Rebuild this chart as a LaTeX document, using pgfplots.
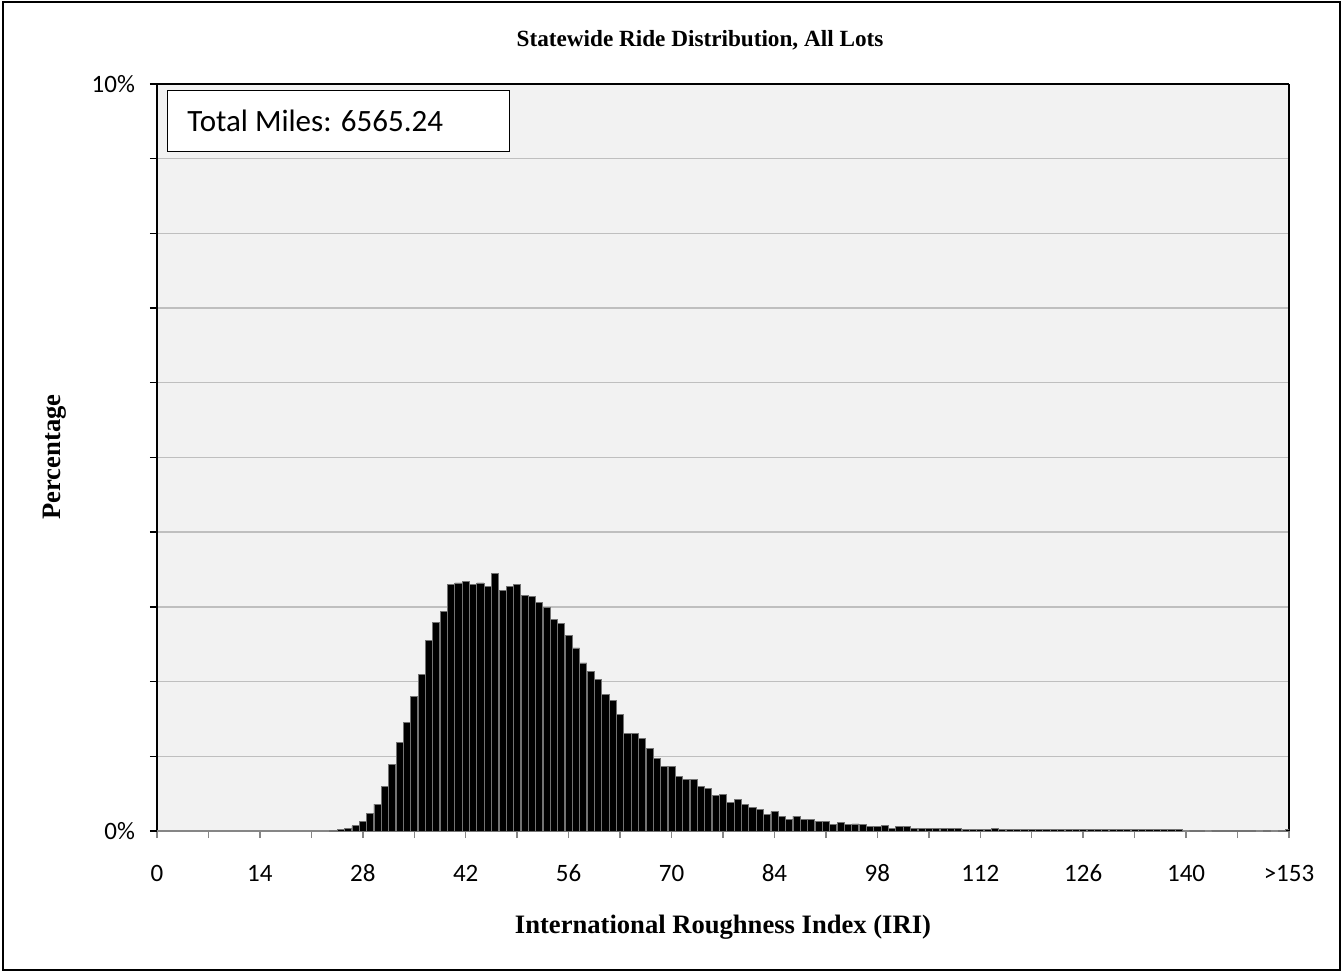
\documentclass[border=0pt]{standalone}
\usepackage{pgfplots}
\pgfplotsset{compat=1.18}
\usepackage{fontspec}
\setmainfont{Liberation Serif}
\newfontfamily\calibri{Carlito}
\definecolor{plotbg}{HTML}{F2F2F2}
\definecolor{gridgray}{HTML}{BFBFBF}
\definecolor{axgray}{HTML}{868686}

\pgfplotstableread{
k  pct
24 0.01
25 0.02
26 0.04
27 0.07
28 0.13
29 0.24
30 0.36
31 0.60
32 0.89
33 1.18
34 1.45
35 1.80
36 2.10
37 2.55
38 2.79
39 2.94
40 3.30
41 3.32
42 3.34
43 3.30
44 3.32
45 3.27
46 3.45
47 3.22
48 3.27
49 3.30
50 3.15
51 3.14
52 3.06
53 2.99
54 2.83
55 2.78
56 2.62
57 2.45
58 2.25
59 2.13
60 2.03
61 1.83
62 1.75
63 1.56
64 1.31
65 1.31
66 1.24
67 1.11
68 0.97
69 0.86
70 0.86
71 0.73
72 0.69
73 0.69
74 0.60
75 0.57
76 0.48
77 0.49
78 0.38
79 0.42
80 0.36
81 0.32
82 0.29
83 0.22
84 0.26
85 0.19
86 0.16
87 0.20
88 0.16
89 0.16
90 0.13
91 0.13
92 0.085
93 0.11
94 0.09
95 0.095
96 0.085
97 0.06
98 0.06
99 0.07
100 0.04
101 0.06
102 0.055
103 0.04
104 0.035
105 0.035
106 0.04
107 0.03
108 0.03
109 0.03
110 0.025
111 0.025
112 0.025
113 0.025
114 0.035
115 0.02
116 0.015
117 0.02
118 0.015
119 0.02
120 0.015
121 0.015
122 0.02
123 0.015
124 0.015
125 0.015
126 0.02
127 0.015
128 0.015
129 0.015
130 0.015
131 0.015
132 0.015
133 0.015
134 0.015
135 0.015
136 0.015
137 0.015
138 0.015
139 0.015
141 0.01
142 0.01
144 0.01
145 0.01
146 0.01
147 0.01
148 0.01
149 0.01
151 0.01
153 0.01
154 0.02
}\ridedata

\begin{document}
\begin{tikzpicture}
% page size: 1342x973 px at 0.5pt per px, axis origin at (157,831) px
\path[use as bounding box] (-78.5pt,-71pt) rectangle (592.5pt,415.5pt);
\draw[line width=0.7pt] (-77pt,-69.5pt) rectangle (591.5pt,414.5pt);
\begin{axis}[
  at={(0pt,0pt)}, anchor=origin,
  scale only axis,
  width=566pt, height=373.5pt,
  xmin=0, xmax=154,
  ymin=0, ymax=10,
  axis background/.style={fill=plotbg},
  separate axis lines,
  x axis line style={draw=none},
  y axis line style={black, line width=0.7pt},
  ytick={0,1,...,10},
  yticklabels={0\%,,,,,,,,,,10\%},
  xtick={0,7,...,154},
  xticklabels={0,,14,,28,,42,,56,,70,,84,,98,,112,,126,,140,,>153},
  xtick pos=lower, ytick pos=left,
  tick align=outside,
  major tick length=3.5pt,
  xtick style={axgray, line width=0.7pt},
  ytick style={black, line width=0.7pt},
  ymajorgrids,
  major grid style={gridgray, line width=0.7pt},
  /pgf/number format/assume math mode=true,
  ticklabel style={font=\calibri\fontsize{12.5}{14}\selectfont},
  xticklabel style={yshift=-9pt, text height=9pt, text depth=2pt},
  yticklabel style={xshift=-4pt},
  ylabel={Percentage},
  every axis y label/.style={at={(-51pt,187pt)}, rotate=90, anchor=center,
    font=\bfseries\fontsize{13.3}{15}\selectfont},
  xlabel={International Roughness Index (IRI)},
  every axis x label/.style={at={(283pt,-48pt)}, anchor=center,
    font=\bfseries\fontsize{13.3}{15}\selectfont},
  title={Statewide Ride Distribution, All Lots},
  every axis title/.style={at={(271.5pt,395.5pt)}, anchor=center,
    font=\bfseries\fontsize{11.6}{14}\selectfont},
]
% gray category axis under the bars, black frame line on top
\draw[axgray, line width=0.7pt] (rel axis cs:0,0) -- (rel axis cs:1,0);
\draw[black, line width=0.7pt] (rel axis cs:0,1) -- (rel axis cs:1,1);
\addplot[ybar, bar width=3.55pt, fill=black, draw=black!55, line width=0.4pt]
  table[x=k, y=pct] {\ridedata};
\end{axis}
\node[draw=black, fill=white, line width=0.7pt, anchor=north west,
  minimum width=171pt, minimum height=30.5pt, inner sep=0pt]
  at (5pt,370.5pt) {};
\node[anchor=west, inner sep=0pt, font=\calibri\fontsize{15.5}{18}\selectfont]
  at (15pt,355pt) {Total Miles: 6565.24};
\end{tikzpicture}
\end{document}
